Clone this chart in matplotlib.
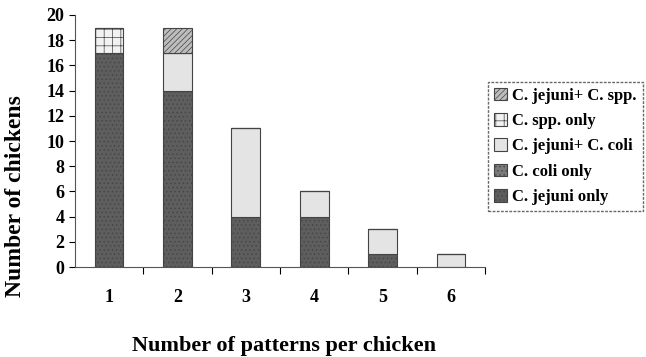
import matplotlib.pyplot as plt
from matplotlib.ticker import FixedLocator

patterns = [1, 2, 3, 4, 5, 6]
jejuni_only = [17, 14, 4, 4, 1, 0]
coli_only = [0, 0, 0, 0, 0, 0]
jejuni_coli = [0, 3, 7, 2, 2, 1]
spp_only = [2, 0, 0, 0, 0, 0]
jejuni_spp = [0, 2, 0, 0, 0, 0]

series = [
    ('C. jejuni only', jejuni_only, '#5e5e5e', '....'),
    ('C. coli only', coli_only, '#7a7a7a', '....'),
    ('C. jejuni+ C. coli', jejuni_coli, '#e4e4e4', None),
    ('C. spp. only', spp_only, '#f2f2f2', '++'),
    ('C. jejuni+ C. spp.', jejuni_spp, '#bdbdbd', '//////'),
]

plt.rcParams['font.family'] = 'Liberation Serif'
plt.rcParams['font.weight'] = 'bold'
plt.rcParams['hatch.linewidth'] = 0.5

fig = plt.figure(figsize=(6.46, 3.57), dpi=100)
ax = fig.add_axes([0.116, 0.252, 0.635, 0.706])

bottom = [0] * len(patterns)
handles = []
for name, vals, color, hatch in series:
    b = ax.bar(patterns, vals, width=0.42, bottom=bottom, color=color,
               hatch=hatch, edgecolor='#444444', linewidth=0.8, label=name)
    handles.append(b)
    bottom = [a + v for a, v in zip(bottom, vals)]

ax.set_xlim(0.5, 6.5)
ax.set_ylim(0, 20)
ax.set_yticks(range(0, 21, 2))
ax.set_xticks(patterns)
ax.xaxis.set_minor_locator(FixedLocator([1.5, 2.5, 3.5, 4.5, 5.5, 6.5]))
ax.tick_params(axis='x', which='major', length=0, pad=16, labelsize=13)
ax.tick_params(axis='x', which='minor', length=5, width=0.8)
ax.tick_params(axis='y', labelsize=13, length=4, width=0.8)
for s in ['top', 'right']:
    ax.spines[s].set_visible(False)
ax.spines['left'].set_color('#555555')
ax.spines['bottom'].set_color('#555555')

ax.set_ylabel('Number of chickens', fontsize=17, fontweight='bold')
ax.yaxis.set_label_coords(-0.12, 0.28)
ax.set_xlabel('Number of patterns per chicken', fontsize=16, fontweight='bold')
ax.xaxis.set_label_coords(0.51, -0.275)

leg = ax.legend(handles[::-1], [s[0] for s in series][::-1],
                loc='upper left', bbox_to_anchor=(0.995, 0.755),
                fontsize=12, frameon=True, fancybox=False,
                handlelength=0.8, handleheight=0.8, handletextpad=0.3,
                labelspacing=0.55, borderpad=0.35, borderaxespad=0.3)
leg.get_frame().set_edgecolor('#444444')
leg.get_frame().set_linestyle((0, (2, 1)))

fig.savefig('out.png', dpi=100)
